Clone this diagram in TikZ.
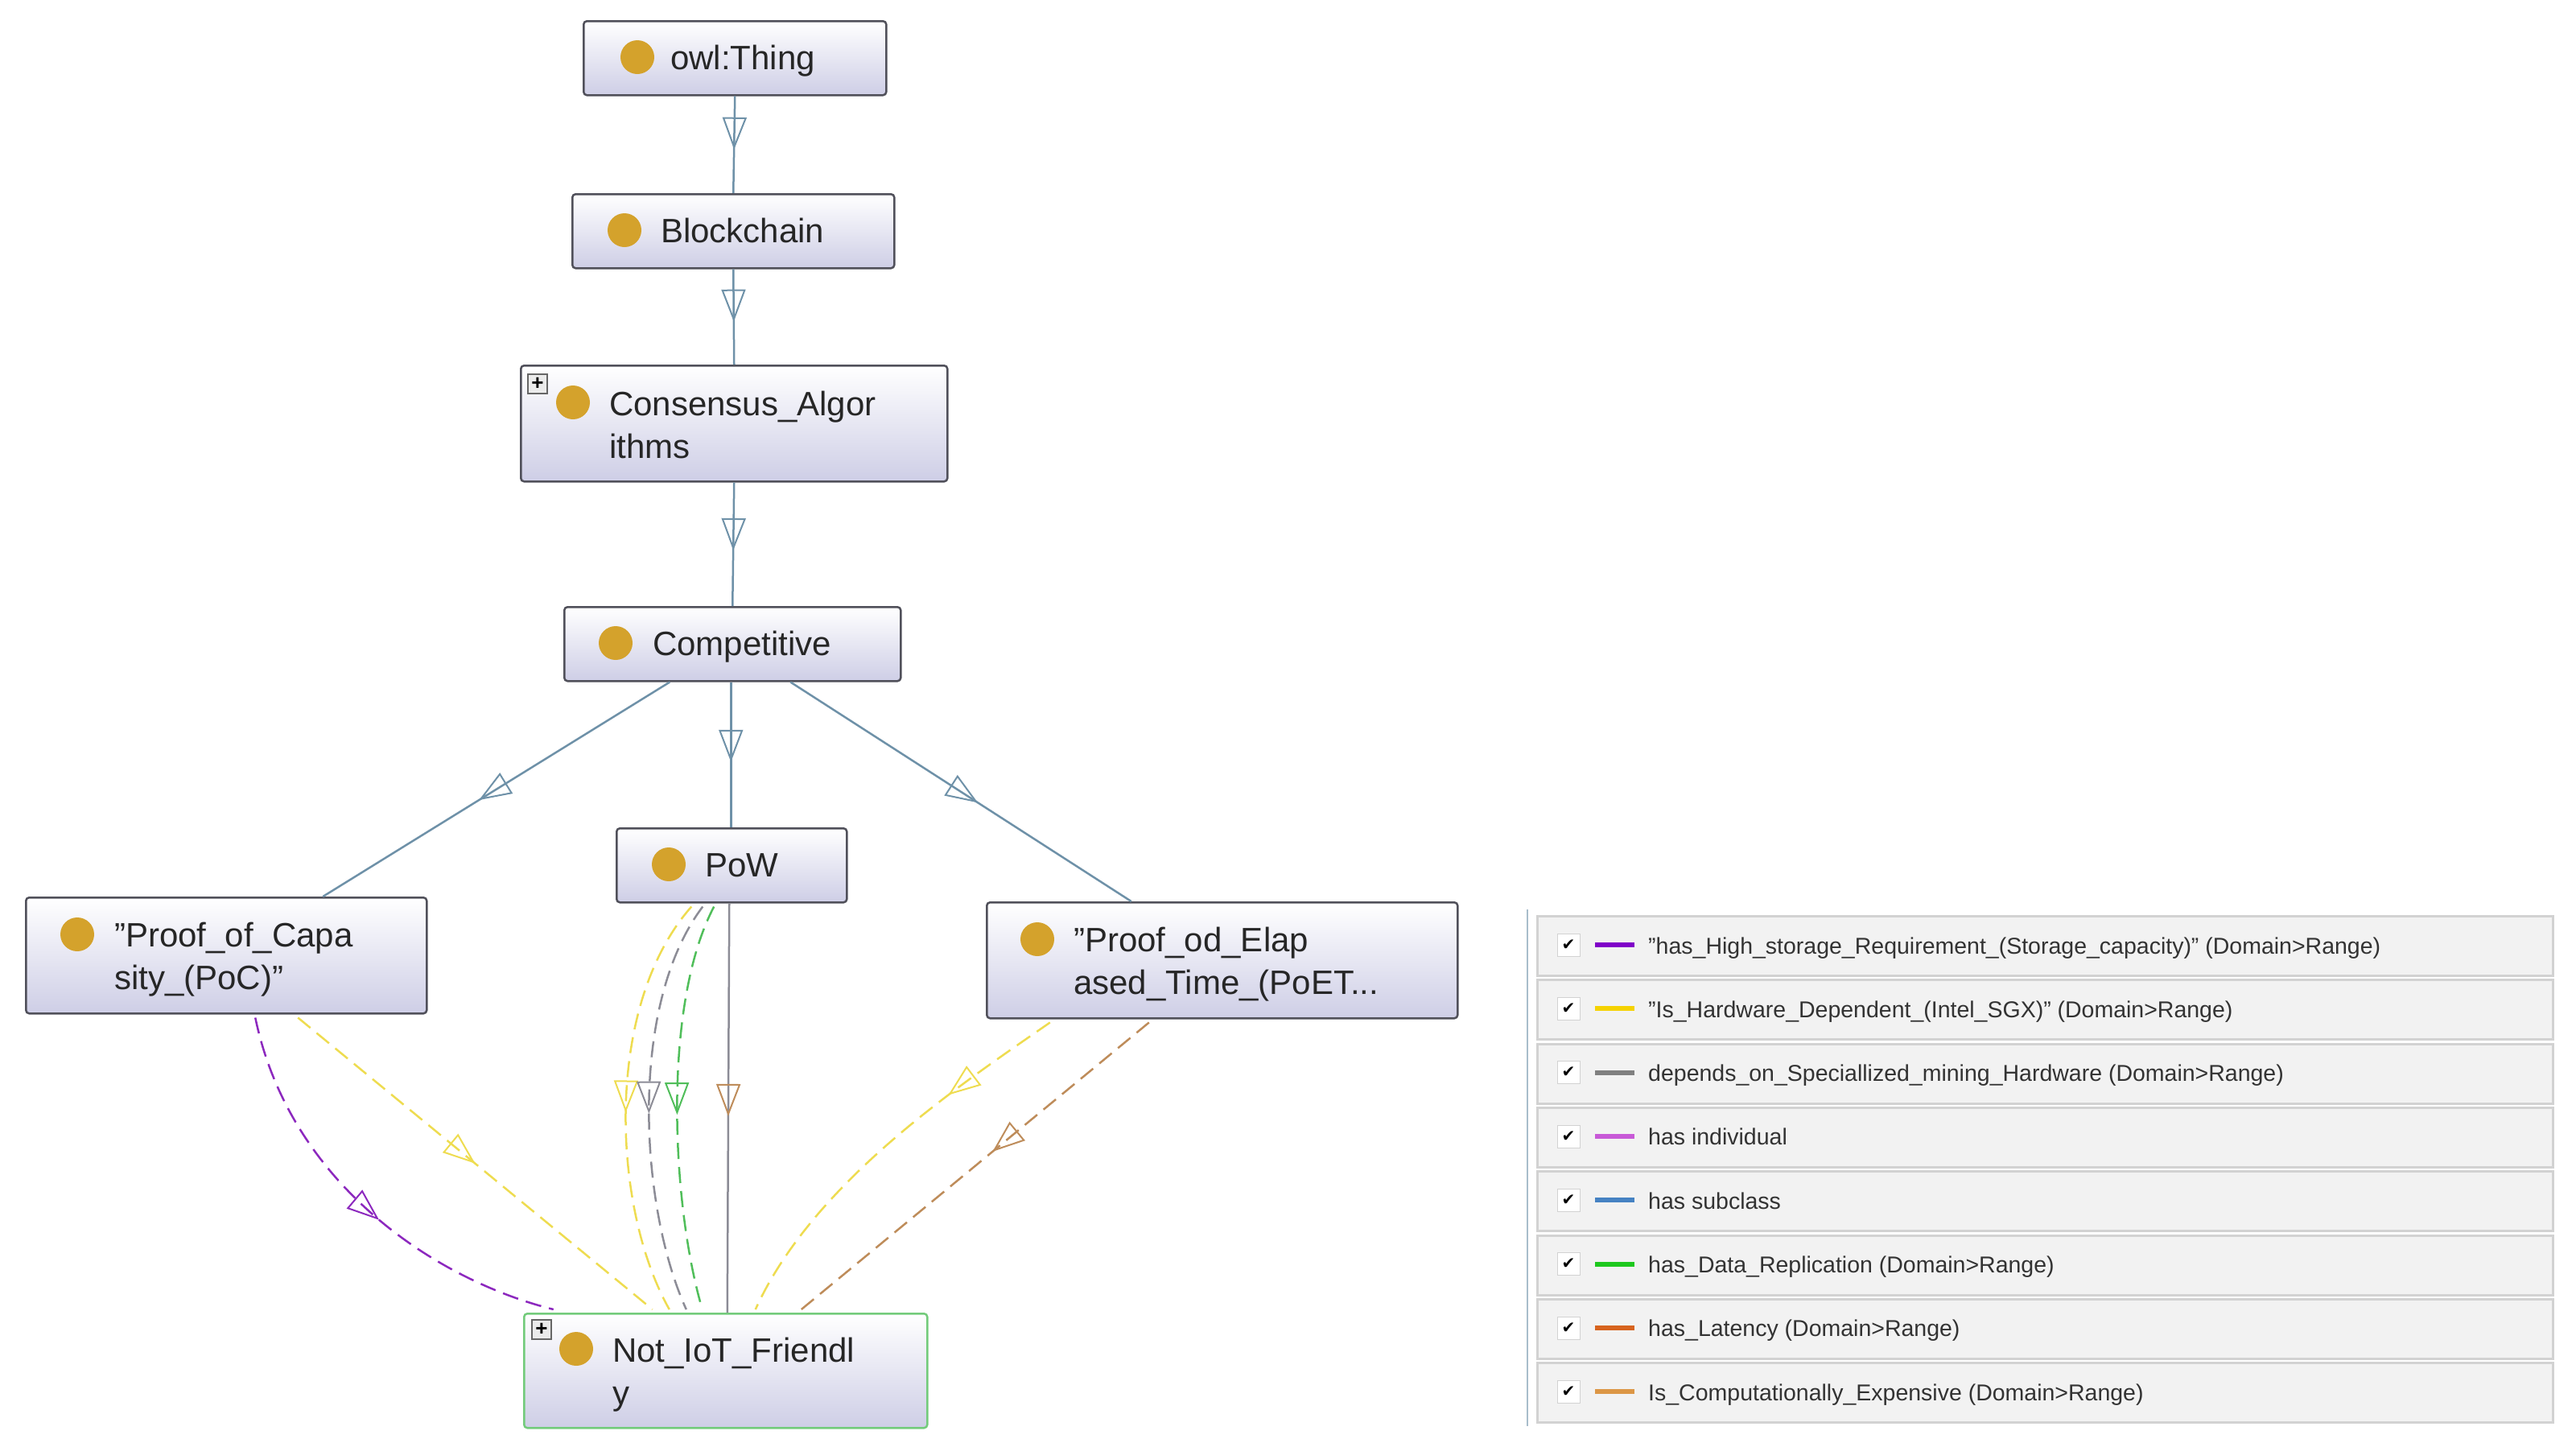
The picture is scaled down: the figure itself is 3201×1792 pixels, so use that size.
\documentclass[tikz,border=0pt]{standalone}
\usepackage{fontspec}
\setmainfont{Liberation Sans}
\newfontfamily\chkfont{DejaVu Sans}
\usetikzlibrary{arrows.meta,decorations.markings,calc}
\definecolor{edgeblue}{RGB}{110,145,168}
\definecolor{nodeborder}{RGB}{80,80,90}
\definecolor{nodebot}{RGB}{206,206,230}
\definecolor{gold}{RGB}{212,162,44}
\definecolor{cpurple}{RGB}{140,40,190}
\definecolor{cyellow}{RGB}{238,220,80}
\definecolor{cgray}{RGB}{140,140,150}
\definecolor{cgreen}{RGB}{80,190,90}
\definecolor{cbrown}{RGB}{190,140,90}
\definecolor{lpurple}{RGB}{128,0,200}
\definecolor{lyellow}{RGB}{245,210,0}
\definecolor{lgray}{RGB}{128,128,128}
\definecolor{lviolet}{RGB}{200,90,215}
\definecolor{lblue}{RGB}{70,130,195}
\definecolor{lgreen}{RGB}{30,200,30}
\definecolor{lorange}{RGB}{215,100,30}
\definecolor{ltan}{RGB}{220,150,70}
\definecolor{rowfill}{RGB}{242,242,242}
\definecolor{rowline}{RGB}{210,210,210}
\begin{document}
\begin{tikzpicture}[x=1pt,y=-1pt,
  cls/.style={draw=nodeborder,line width=2.5pt,rounded corners=4pt,anchor=north west,
     top color=white,bottom color=nodebot,inner sep=0pt},
  dot/.style={circle,fill=gold,minimum size=42pt,inner sep=0pt},
  lbl/.style={anchor=base west,inner sep=0pt,font=\fontsize{42}{50}\selectfont,text=black!85},
  plus/.style={draw=black!60,fill=black!8,minimum size=24pt,inner sep=0pt,line width=1.5pt,font=\fontsize{26}{26}\selectfont\bfseries},
  mid/.style={decoration={markings,mark=at position #1 with {\arrow[line width=2pt,solid]{Triangle[open,length=40pt,width=30pt]}}},postaction={decorate}},
  sub/.style={draw=edgeblue,line width=2.5pt,mid=0.55},
  rel/.style={line width=2.5pt,dash pattern=on 20pt off 10pt,mid=#1},
  row/.style={draw=rowline,fill=rowfill,line width=3pt,anchor=north west,minimum width=1262pt,minimum height=74pt,inner sep=0pt},
  ltxt/.style={anchor=base west,inner sep=0pt,font=\fontsize{28.5}{34}\selectfont,text=black!80},
  chk/.style={draw=rowline,fill=white,minimum size=28pt,inner sep=0pt,font=\chkfont\fontsize{20}{20}\selectfont}
]
\useasboundingbox (0,0) rectangle (3201,1792);
% class nodes
\node[cls,minimum width=376pt,minimum height=92pt] (thing) at (724,25) {};
\node[dot] (thingd) at (792,71) {};
\node[lbl] (thingt) at (833,86) {owl:Thing};
\node[cls,minimum width=400pt,minimum height=92pt] (block) at (710,240) {};
\node[dot] (blockd) at (776,286) {};
\node[lbl] (blockt) at (821,301) {Blockchain};
\node[cls,minimum width=530pt,minimum height=144pt] (cons) at (646,453) {};
\node[plus] (consp) at (668,477) {+};
\node[dot] (consd) at (712,500) {};
\node[lbl] (const1) at (757,516) {Consensus\_Algor};
\node[lbl] (const2) at (757,569) {ithms};
\node[cls,minimum width=418pt,minimum height=92pt] (comp) at (700,753) {};
\node[dot] (compd) at (765,799) {};
\node[lbl] (compt) at (811,814) {Competitive};
\node[cls,minimum width=286pt,minimum height=92pt] (pow) at (765,1028) {};
\node[dot] (powd) at (831,1074) {};
\node[lbl] (powt) at (876,1089) {PoW};
\node[cls,minimum width=498pt,minimum height=144pt] (poc) at (31,1114) {};
\node[dot] (pocd) at (96,1161) {};
\node[lbl] (poct1) at (142,1176) {"Proof\_of\_Capa};
\node[lbl] (poct2) at (142,1229) {sity\_(PoC)"};
\node[cls,minimum width=585pt,minimum height=144pt] (poet) at (1225,1120) {};
\node[dot] (poetd) at (1289,1167) {};
\node[lbl] (poett1) at (1334,1182) {"Proof\_od\_Elap};
\node[lbl] (poett2) at (1334,1235) {ased\_Time\_(PoET...};
\node[cls,draw=cgreen!80,minimum width=501pt,minimum height=142pt] (iot) at (650,1631) {};
\node[plus] (iotp) at (673,1652) {+};
\node[dot] (iotd) at (716,1676) {};
\node[lbl] (iott1) at (761,1692) {Not\_IoT\_Friendl};
\node[lbl] (iott2) at (761,1745) {y};
% subclass edges
\draw[sub] (thing.south) -- (block.north);
\draw[sub] (block.south) -- (cons.north);
\draw[sub] (cons.south) -- (comp.north);
\draw[sub] ($(comp.south)+(-78,0)$) -- ($(poc.north)+(120,0)$);
\draw[sub] ($(comp.south)+(-2,0)$) -- ($(pow.north)+(-1,0)$);
\draw[sub] ($(comp.south)+(72,0)$) -- ($(poet.north)+(-113,0)$);
% relations
\draw[rel=0.55,draw=cpurple] ($(poc.south)+(36,4)$) .. controls (360,1470) and (540,1590) .. ($(iot.north)+(-214,-4)$);
\draw[rel=0.5,draw=cyellow] ($(poc.south)+(89,4)$) -- ($(iot.north)+(-91,-4)$);
\draw[rel=0.52,draw=cyellow] ($(pow.south)+(-50,4)$) .. controls (750,1250) and (760,1500) .. ($(iot.north)+(-70,-4)$);
\draw[rel=0.52,draw=cgray] ($(pow.south)+(-36,4)$) .. controls (780,1250) and (795,1500) .. ($(iot.north)+(-49,-4)$);
\draw[rel=0.52,draw=cgreen] ($(pow.south)+(-22,4)$) .. controls (822,1250) and (835,1500) .. ($(iot.north)+(-29,-4)$);
\draw[draw=cgray,line width=2.5pt,decoration={markings,mark=at position 0.52 with {\arrow[line width=2pt,draw=cbrown]{Triangle[open,length=40pt,width=30pt]}}},postaction={decorate}] ($(pow.south)+(-3,0)$) -- ($(iot.north)+(2,0)$);
\draw[rel=0.3,draw=cyellow] ($(poet.south)+(-214,4)$) .. controls (1190,1350) and (1010,1470) .. ($(iot.north)+(37,-4)$);
\draw[rel=0.45,draw=cbrown] ($(poet.south)+(-91,4)$) -- ($(iot.north)+(94,-4)$);
% legend
\draw[draw=edgeblue!60,line width=2pt] (1898,1130) -- (1898,1772);
\foreach \i/\c/\t in {
  0/lpurple/{"has\_High\_storage\_Requirement\_(Storage\_capacity)" (Domain>Range)},
  1/lyellow/{"Is\_Hardware\_Dependent\_(Intel\_SGX)" (Domain>Range)},
  2/lgray/{depends\_on\_Speciallized\_mining\_Hardware (Domain>Range)},
  3/lviolet/{has individual},
  4/lblue/{has subclass},
  5/lgreen/{has\_Data\_Replication (Domain>Range)},
  6/lorange/{has\_Latency (Domain>Range)},
  7/ltan/{Is\_Computationally\_Expensive (Domain>Range)}}{
  \node[row] (row\i) at (1909,1137+79.3*\i) {};
  \node[chk] (chk\i) at (1949,1174+79.3*\i) {✔};
  \draw[draw=\c,line width=6pt] (1982,1174+79.3*\i) -- (2031,1174+79.3*\i);
  \node[ltxt] (txt\i) at (2048,1185+79.3*\i) {\t};
}
\end{tikzpicture}
\end{document}
